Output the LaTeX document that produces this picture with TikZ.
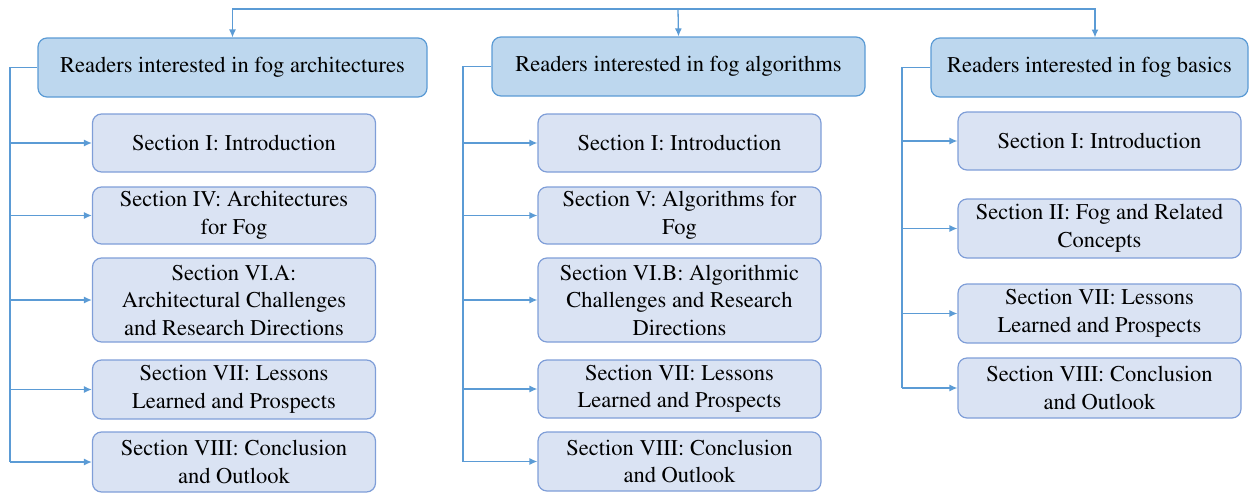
\documentclass[tikz,border=0pt]{standalone}
\usepackage[T1]{fontenc}
\usepackage{mathptmx}
\usetikzlibrary{arrows.meta}
\definecolor{lineblue}{HTML}{5B9BD5}
\definecolor{headfill}{HTML}{BDD7EE}
\definecolor{secfill}{HTML}{DAE3F3}
\definecolor{secline}{HTML}{7F9ED8}
\tikzset{
  head/.style={draw=lineblue, fill=headfill, line width=1.2pt, rounded corners=9pt,
    align=center, inner sep=0pt, minimum height=59pt,
    font=\fontsize{22.5}{27.5}\selectfont},
  secbox/.style={draw=secline, fill=secfill, line width=1.2pt, rounded corners=9pt,
    align=center, inner sep=0pt, minimum width=283pt,
    font=\fontsize{22.5}{27.5}\selectfont},
  link/.style={lineblue, line width=1.3pt},
  arr/.style={link, -{Latex[length=8pt,width=7pt]}}
}
\begin{document}
\begin{tikzpicture}[x=1pt,y=-1pt]
\useasboundingbox (0,0) rectangle (1255,493);
% readers
\node[head, minimum width=389pt] (h1) at (232.5,67.5) {Readers interested in fog architectures};
\node[head, minimum width=373pt] (h2) at (678.5,66.5) {Readers interested in fog algorithms};
\node[head, minimum width=317pt] (h3) at (1089.5,67.5) {Readers interested in fog basics};
\coordinate (top) at (678,9);
\draw[arr] (top) -| (h1.north);
\draw[arr] (top) -- (h2.north);
\draw[arr] (top) -| (1095,37.5);
% architectures
\node[secbox, minimum height=58pt] (c11) at (234,143) {Section I: Introduction};
\node[secbox, minimum height=57pt] (c12) at (234,215.5) {Section IV: Architectures\\for Fog};
\node[secbox, minimum height=84pt] (c13) at (234,300) {Section VI.A:\\Architectural Challenges\\and Research Directions};
\node[secbox, minimum height=59pt] (c14) at (234,389.5) {Section VII: Lessons\\Learned and Prospects};
\node[secbox, minimum height=60pt] (c15) at (234,462) {Section VIII: Conclusion\\and Outlook};
% algorithms
\node[secbox, minimum height=58pt] (c21) at (679.5,143) {Section I: Introduction};
\node[secbox, minimum height=57pt] (c22) at (679.5,215.5) {Section V: Algorithms for\\Fog};
\node[secbox, minimum height=84pt] (c23) at (679.5,300) {Section VI.B: Algorithmic\\Challenges and Research\\Directions};
\node[secbox, minimum height=58pt] (c24) at (679.5,389) {Section VII: Lessons\\Learned and Prospects};
\node[secbox, minimum height=59pt] (c25) at (679.5,461.5) {Section VIII: Conclusion\\and Outlook};
% basics
\node[secbox, minimum height=58pt] (c31) at (1099.5,141) {Section I: Introduction};
\node[secbox, minimum height=59pt] (c32) at (1099.5,228.5) {Section II: Fog and Related\\Concepts};
\node[secbox, minimum height=59pt] (c33) at (1099.5,313.5) {Section VII: Lessons\\Learned and Prospects};
\node[secbox, minimum height=60pt] (c34) at (1099.5,388) {Section VIII: Conclusion\\and Outlook};
% trunks
\coordinate (t1) at (10,67.5);
\coordinate (t2) at (463,66.5);
\coordinate (t3) at (902,67.5);
\draw[link] (h1.west) -- (t1) -- (t1 |- c15.west);
\draw[link] (h2.west) -- (t2) -- (t2 |- c25.west);
\draw[link] (h3.west) -- (t3) -- (t3 |- c34.west);
\foreach \i in {1,...,5} {
  \draw[arr] (t1 |- c1\i.west) -- (c1\i.west);
  \draw[arr] (t2 |- c2\i.west) -- (c2\i.west);
}
\foreach \i in {1,...,4}
  \draw[arr] (t3 |- c3\i.west) -- (c3\i.west);
\end{tikzpicture}
\end{document}
